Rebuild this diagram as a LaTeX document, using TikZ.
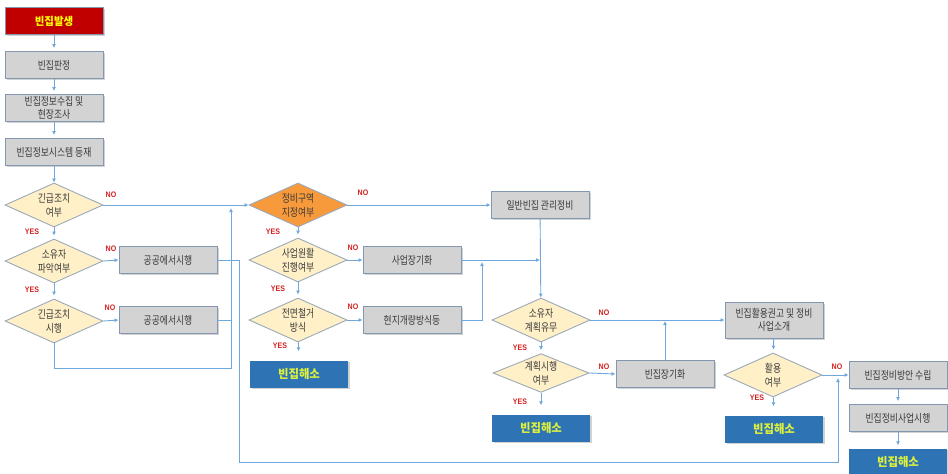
\documentclass[tikz,border=0pt]{standalone}
\usepackage{fontspec}
\setmainfont{Noto Sans CJK KR}[FakeStretch=0.8]
\newfontfamily\widefont{Noto Sans CJK KR}[FakeStretch=0.95]
\newfontfamily\labfont{Liberation Sans}[FakeStretch=0.88]
\usetikzlibrary{shapes.geometric,shadows,arrows.meta}

\definecolor{flow}{HTML}{6FA8DC}
\definecolor{boxgray}{HTML}{D3D3D3}
\definecolor{boxline}{HTML}{8497B0}
\definecolor{txt}{HTML}{3A3A3A}
\definecolor{startred}{HTML}{C00000}
\definecolor{hiyellow}{HTML}{FFFF00}
\definecolor{endblue}{HTML}{2E74B5}
\definecolor{endtext}{HTML}{DDF03C}
\definecolor{decfill}{HTML}{FFF0C8}
\definecolor{decline}{HTML}{9CA9B9}
\definecolor{keyorange}{HTML}{F79A3B}
\definecolor{labred}{HTML}{D42020}

\begin{document}
\begin{tikzpicture}[x=1pt,y=-1pt,
  base/.style={minimum width=98pt, minimum height=27pt, inner sep=1pt,
    align=center, font=\fontsize{11}{13.5}\selectfont,
    drop shadow={shadow xshift=1.6pt, shadow yshift=-1.6pt, opacity=0.35}},
  box/.style={base, draw=boxline, line width=0.9pt, fill=boxgray, text=txt},
  startbox/.style={base, draw=boxline, line width=0.9pt, fill=startred, text=hiyellow,
    font=\widefont\fontsize{11}{13}\selectfont\bfseries},
  endbox/.style={base, fill=endblue, text=endtext,
    font=\widefont\fontsize{12}{14}\selectfont\bfseries},
  decision/.style={diamond, draw=decline, line width=0.9pt, fill=decfill, text=txt,
    inner sep=0pt, aspect=2.2, minimum width=98pt, minimum height=44pt,
    align=center, font=\fontsize{11}{14}\selectfont},
  keydecision/.style={decision, fill=keyorange},
  flowline/.style={draw=flow, line width=0.9pt},
  arr/.style={flowline, -{Latex[length=4pt,width=4pt]}},
  stub/.style={arr, shorten >=3pt},
  yes/.style={text=labred, font=\labfont\fontsize{8}{9}\selectfont\bfseries, inner sep=0pt},
  no/.style={yes}
]
\useasboundingbox (0,0) rectangle (948,474);
\fill[white] (0,0) rectangle (948,474);

% left column: detection and first checks
\node[startbox] (n1) at (54,21) {빈집발생};
\node[box] (n2) at (54,65) {빈집판정};
\node[box] (n3) at (54,108) {빈집정보수집 및\\현장조사};
\node[box] (n4) at (54,152) {빈집정보시스템 등재};
\node[decision] (d1) at (54,205) {긴급조치\\여부};
\node[decision] (d2) at (54,261) {소유자\\파악여부};
\node[decision] (d3) at (54,321) {긴급조치\\시행};
\node[box] (b1) at (168,260) {공공에서시행};
\node[box] (b2) at (168,320) {공공에서시행};

% second column: improvement district
\node[keydecision] (d4) at (298,205) {정비구역\\지정여부};
\node[decision] (d5) at (298,260) {사업원활\\진행여부};
\node[decision] (d6) at (298,320) {전면철거\\방식};
\node[box] (b3) at (412,260) {사업장기화};
\node[box] (b4) at (412,320) {현지개량방식등};
\node[endbox] (e1) at (299,374) {빈집해소};

% third column: general vacant houses
\node[box] (b5) at (540,205) {일반빈집 관리정비};
\node[decision] (d7) at (541,320) {소유자\\계획유무};
\node[decision, minimum height=36pt, minimum width=96pt] (d8) at (541,373) {계획시행\\여부};
\node[box] (b6) at (665,374) {빈집장기화};
\node[endbox] (e2) at (541,428) {빈집해소};

% fourth column: utilisation and public works
\node[box, minimum height=36pt] (b7) at (774,320) {빈집활용권고 및 정비\\사업소개};
\node[decision] (d9) at (773,375) {활용\\여부};
\node[endbox] (e3) at (774,429) {빈집해소};
\node[box] (b8) at (898,375) {빈집정비방안 수립};
\node[box] (b9) at (898,418) {빈집정비사업시행};
\node[endbox] (e4) at (898,462) {빈집해소};

% junction points of the loop connectors
\coordinate (lpA) at (231,368);
\coordinate (lpB) at (231,208);
\coordinate (lpC) at (239,462);
\coordinate (lpD) at (838,462);
\coordinate (lpE) at (838,378);
\coordinate (lpF) at (482,262);

% left column flow
\draw[stub] (n1) -- (n2);
\draw[stub] (n2) -- (n3);
\draw[stub] (n3) -- (n4);
\draw[arr] (n4) -- (d1);
\draw[stub] (d1) -- (d2);
\draw[stub] (d2) -- (d3);
\draw[arr] (d2.east) -- (b1.west);
\draw[arr] (d3.east) -- (b2.west);
\draw[arr] (d1.east) -- (d4.west);
\draw[arr] (d3.south) |- (lpA) -- (lpB);
\draw[flowline] (b2.east) -- (b2.east -| lpA);
\draw[arr] (b1.east) -| (lpC) -- (lpD) -- (lpE);

% district flow
\draw[stub] (d4) -- (d5);
\draw[stub] (d5) -- (d6);
\draw[arr, shorten >=9pt] (d6) -- (e1);
\draw[arr] (d4.east) -- (b5.west);
\draw[arr] (d5.east) -- (b3.west);
\draw[arr] (d6.east) -- (b4.west);
\draw[arr] (b3.east) -- (b3.east -| b5.south);
\draw[arr] (b4.east) -| (lpF);

% general flow
\draw[arr] (b5) -- (d7);
\draw[stub] (d7) -- (d8);
\draw[arr] (d7.east) -- (b7.west);
\draw[arr] (d8.east) -- (b6.west);
\draw[arr, shorten >=1pt] (b6.north) -- (b6.north |- d7.east);
\draw[arr, shorten >=9pt] (d8) -- (e2);
\draw[stub] (b7) -- (d9);
\draw[arr] (d9.east) -- (b8.west);
\draw[arr, shorten >=9pt] (d9) -- (e3);
\draw[stub] (b8) -- (b9);
\draw[stub] (b9) -- (e4);

% branch labels
\node[no] at (111,195) {NO};
\node[no] at (111,249) {NO};
\node[no] at (110,308) {NO};
\node[no] at (363,193) {NO};
\node[no] at (353,248) {NO};
\node[no] at (353,307) {NO};
\node[no] at (604,313) {NO};
\node[no] at (604,367) {NO};
\node[no] at (837,367) {NO};
\node[yes] at (32,232) {YES};
\node[yes] at (32,290) {YES};
\node[yes] at (273,232) {YES};
\node[yes] at (278,289) {YES};
\node[yes] at (280,346) {YES};
\node[yes] at (520,348) {YES};
\node[yes] at (520,402) {YES};
\node[yes] at (757,398) {YES};
\end{tikzpicture}
\end{document}
